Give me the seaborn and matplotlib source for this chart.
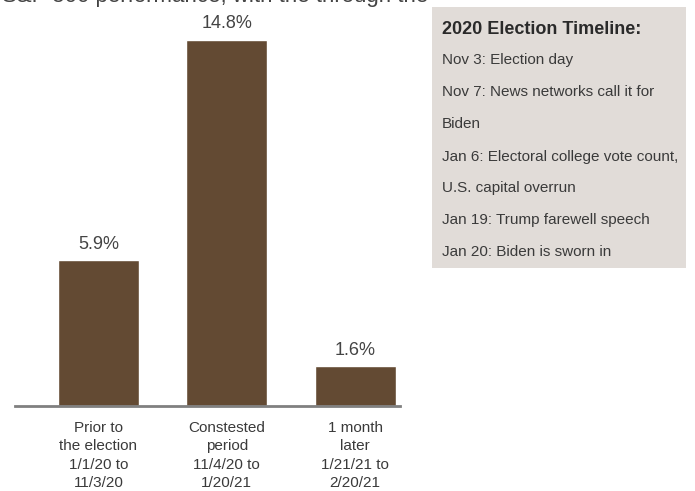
import matplotlib
matplotlib.use("Agg")
import matplotlib.pyplot as plt
import seaborn as sns
import pandas as pd
from matplotlib.patches import Rectangle

categories = ["Prior to\nthe election\n1/1/20 to\n11/3/20",
              "Constested\nperiod\n11/4/20 to\n1/20/21",
              "1 month\nlater\n1/21/21 to\n2/20/21"]
values = [5.9, 14.8, 1.6]
value_labels = ["5.9%", "14.8%", "1.6%"]
box_title = "2020 Election Timeline:"
box_lines = ["Nov 3: Election day",
             "Nov 7: News networks call it for",
             "Biden",
             "Jan 6: Electoral college vote count,",
             "U.S. capital overrun",
             "Jan 19: Trump farewell speech",
             "Jan 20: Biden is sworn in"]
clipped_title = "S&P 500 performance, with the through the"

sns.set_theme(style="white")
plt.rcParams['font.family'] = ['Liberation Sans', 'DejaVu Sans']

W, H = 695, 491
fig = plt.figure(figsize=(W / 100, H / 100), dpi=100)
base_px = 406
ax = fig.add_axes([15 / W, (H - base_px) / H, 385 / W, base_px / H])

df = pd.DataFrame({"cat": categories, "val": values})
sns.barplot(data=df, x="cat", y="val", color="#634a33", saturation=1,
            width=0.63, ax=ax)
ax.set_xlim(-0.65, 2.35)
ax.set_ylim(0, base_px / 24.75)

for i, (v, lab) in enumerate(zip(values, value_labels)):
    ax.text(i, v + 0.3, lab, ha="center", va="bottom", fontsize=13, color="#444444")

for s in ["top", "right", "left"]:
    ax.spines[s].set_visible(False)
ax.spines["bottom"].set_color("#808080")
ax.spines["bottom"].set_linewidth(2)
ax.set_yticks([])
ax.set_xlabel("")
ax.set_ylabel("")
ax.tick_params(axis="x", length=0, pad=11, labelsize=11, labelcolor="#3a3a3a")
for t in ax.get_xticklabels():
    t.set_linespacing(1.38)

# clipped title at top
fig.text(2 / W, 1 - 2 / H, clipped_title, ha="left", va="baseline",
         fontsize=16, color="#444444")

# timeline box
fig.patches.append(Rectangle((432 / W, 1 - 268 / H), 254 / W, 261 / H,
                             transform=fig.transFigure, facecolor="#e1dcd8",
                             edgecolor="none", zorder=0))
fig.text(442 / W, 1 - 30 / H, box_title, ha="left", va="center",
         fontsize=13, fontweight="bold", color="#2a2a2a")
ys = [60, 92, 124, 157, 188, 220, 252]
for y, line in zip(ys, box_lines):
    fig.text(442 / W, 1 - y / H, line, ha="left", va="center",
             fontsize=11, color="#3a3a3a")

fig.savefig("out.png", dpi=100)
